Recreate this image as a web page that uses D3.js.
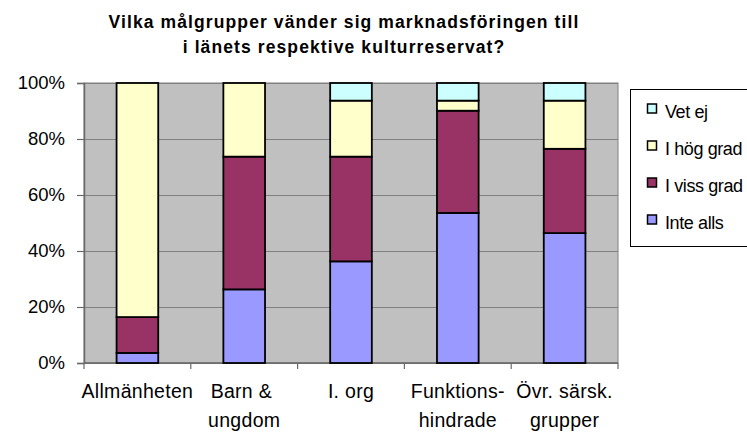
<!DOCTYPE html>
<html><head><meta charset="utf-8">
<script src="https://cdn.jsdelivr.net/npm/d3@7"></script>
<style>body{margin:0;background:#fff}svg{display:block;font-family:"Liberation Sans",Arial,sans-serif}</style>
</head><body>
<svg id="c" width="747" height="435"></svg>
<script>
const categories = [["Allmänheten"],["Barn &\u00A0","ungdom"],["I. org"],["Funktions-","hindrade"],["Övr. särsk.","grupper"]];
const seriesNames = ["Inte alls","I viss grad","I hög grad","Vet ej"];
const inteAlls   = [3.6, 26.3, 36.3, 53.6, 46.4];
const iVissGrad  = [12.8, 47.4, 37.4, 36.5, 30.1];
const iHogGrad   = [83.6, 26.3, 20.0, 3.6, 17.2];
const vetEj      = [0, 0, 6.3, 6.3, 6.3];
const colors = ["#9999FF","#993366","#FFFFCC","#CCFFFF"];
const yTicks = [0,20,40,60,80,100];
const titleLines = ["Vilka målgrupper vänder sig marknadsföringen till","i länets respektive kulturreservat?"];

const svg = d3.select("#c");
const m = {l:84, r:618, t:83, b:363};
const x = d3.scaleBand().domain(d3.range(categories.length)).range([m.l,m.r]).paddingInner(0.61).paddingOuter(0.305);
const y = d3.scaleLinear().domain([0,100]).range([m.b,m.t]);

// plot area
svg.append("rect").attr("x",m.l).attr("y",m.t).attr("width",m.r-m.l).attr("height",m.b-m.t).attr("fill","#C0C0C0").attr("stroke","#808080").attr("stroke-width",1);
// gridlines
svg.append("g").selectAll("line").data(yTicks).join("line")
  .attr("x1",m.l).attr("x2",m.r).attr("y1",d=>Math.round(y(d))+0.5).attr("y2",d=>Math.round(y(d))+0.5)
  .attr("stroke","#808080").attr("stroke-width",1.2);

// y axis
const yAxis = d3.axisLeft(y).tickValues(yTicks).tickFormat(d=>d+"%").tickSize(7).tickPadding(12);
const ga = svg.append("g").attr("transform",`translate(${m.l},0)`).call(yAxis);
ga.select(".domain").attr("stroke","#6a6a6a").attr("stroke-width",1.5);
ga.selectAll(".tick line").attr("stroke","#6a6a6a").attr("stroke-width",1.2);
ga.selectAll("text").attr("font-size",18.5).attr("fill","#000").attr("font-family","Liberation Sans, Arial, sans-serif");

// x axis line and ticks at boundaries
const bw = (m.r-m.l)/categories.length;
svg.append("line").attr("x1",m.l).attr("x2",m.r).attr("y1",m.b).attr("y2",m.b).attr("stroke","#6a6a6a").attr("stroke-width",1.5);
svg.append("g").selectAll("line").data(d3.range(categories.length+1)).join("line")
  .attr("x1",i=>m.l+i*bw).attr("x2",i=>m.l+i*bw).attr("y1",m.b).attr("y2",m.b+6)
  .attr("stroke","#6a6a6a").attr("stroke-width",1.2);

// stacks
const rows = categories.map((c,i)=>({i, "Inte alls":inteAlls[i], "I viss grad":iVissGrad[i], "I hög grad":iHogGrad[i], "Vet ej":vetEj[i]}));
const stack = d3.stack().keys(seriesNames)(rows);
svg.append("g").selectAll("g").data(stack).join("g").attr("fill",(d,i)=>colors[i])
  .selectAll("rect").data(d=>d.filter(v=>v[1]-v[0]>0)).join("rect")
  .attr("x",d=>x(d.data.i)).attr("width",x.bandwidth())
  .attr("y",d=>y(d[1])).attr("height",d=>y(d[0])-y(d[1]))
  .attr("stroke","#000").attr("stroke-width",1.8);

// x labels
const xl = svg.append("g").selectAll("text").data(categories).join("text")
  .attr("x",(d,i)=>x(i)+x.bandwidth()/2).attr("y",397.5).attr("text-anchor","middle")
  .attr("font-size",19.5).attr("letter-spacing",0.3).attr("fill","#000");
xl.selectAll("tspan").data(d=>d).join("tspan")
  .attr("x",function(){return this.parentNode.getAttribute("x");})
  .attr("dy",(d,j)=>j===0?0:29).text(d=>d);

// title
svg.append("g").selectAll("text").data(titleLines).join("text")
  .attr("x",344).attr("y",(d,i)=>28+i*24.5).attr("text-anchor","middle")
  .attr("font-size",17.5).attr("font-weight","bold").attr("letter-spacing",1.1).attr("fill","#000").text(d=>d);

// legend
const lg = svg.append("g");
lg.append("rect").attr("x",630.5).attr("y",89.5).attr("width",130).attr("height",157).attr("fill","#fff").attr("stroke","#000").attr("stroke-width",1);
const legendOrder = [3,2,1,0];
const li = lg.selectAll("g.it").data(legendOrder).join("g").attr("class","it")
  .attr("transform",(d,k)=>`translate(0,${108.5+k*37})`);
li.append("rect").attr("x",647.5).attr("y",-4.5).attr("width",9).attr("height",9).attr("fill",d=>colors[d]).attr("stroke","#000").attr("stroke-width",1.5);
li.append("text").attr("x",665).attr("y",9.2).attr("font-size",18).attr("letter-spacing",-0.4).attr("fill","#000").text(d=>seriesNames[d]);
</script>
</body></html>
